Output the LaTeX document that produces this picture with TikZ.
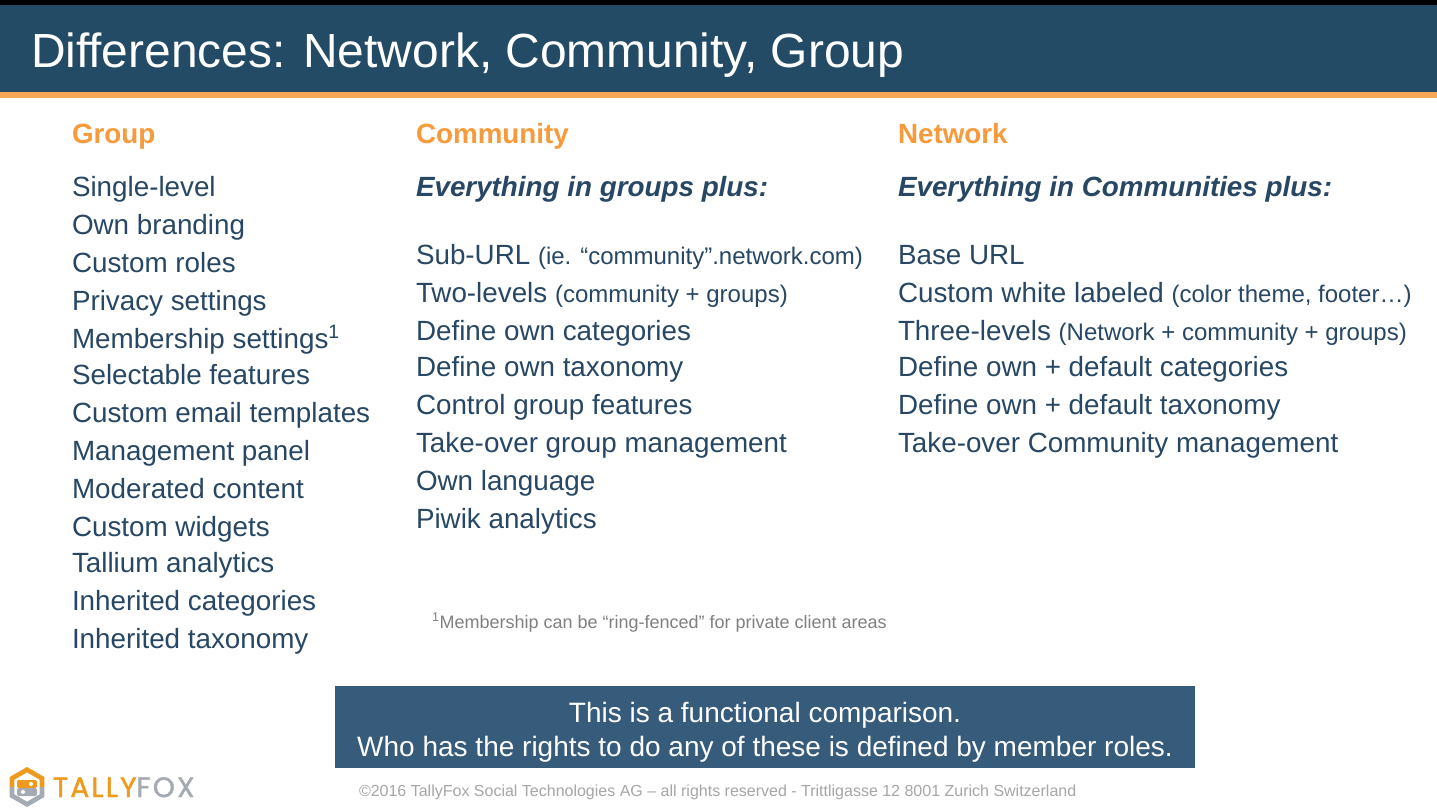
\documentclass[tikz,border=0pt]{standalone}
\usepackage{fontspec}
\setmainfont[Ligatures=NoCommon]{Liberation Sans}
\newfontfamily\logofont[LetterSpace=8,FakeBold=1.5]{Poppins}
\definecolor{hdr}{HTML}{244B65}
\definecolor{org}{HTML}{F9A556}
\definecolor{orgtxt}{HTML}{F79A3C}
\definecolor{bodytxt}{HTML}{274764}
\definecolor{boxc}{HTML}{365B7B}
\definecolor{gfoot}{HTML}{808080}
\definecolor{glight}{HTML}{A6A6A6}
\definecolor{logogray}{HTML}{A5ABB3}
\definecolor{logoorg}{HTML}{EE9A1E}
\newcommand\smallpar[1]{{\fontsize{24}{28}\selectfont #1}}
\begin{document}
\begin{tikzpicture}[x=1pt,y=-1pt,
 every node/.style={inner sep=0pt,outer sep=0pt,anchor=base west},
 item/.style={text=bodytxt,font=\fontsize{27.8}{33}\selectfont},
 head/.style={text=orgtxt,font=\fontsize{27.8}{33}\selectfont\bfseries},
 subhead/.style={text=bodytxt,font=\fontsize{27.8}{33}\selectfont\bfseries\itshape},
 boxtext/.style={text=white,font=\fontsize{28}{33}\selectfont,anchor=base},
]
\useasboundingbox (0,0) rectangle (1437,811);
\fill[white] (0,0) rectangle (1437,811);
% header
\fill[black] (0,0) rectangle (1437,5);
\fill[hdr] (0,5) rectangle (1437,92);
\fill[org] (0,92) rectangle (1437,98);
\node[text=white,font=\fontsize{47.9}{52}\selectfont] (title) at (31,67) {Differences: Network, Community, Group};

% Group column
\node[head] (gh) at (72,143) {Group};
\node[item] (g1) at (72,196) {Single-level};
\node[item] (g2) at (72,234) {Own branding};
\node[item] (g3) at (72,272) {Custom roles};
\node[item] (g4) at (72,310) {Privacy settings};
\node[item] (g5) at (72,348) {Membership settings\textsuperscript{1}};
\node[item] (g6) at (72,384) {Selectable features};
\node[item] (g7) at (72,422) {Custom email templates};
\node[item] (g8) at (72,460) {Management panel};
\node[item] (g9) at (72,498) {Moderated content};
\node[item] (g10) at (72,536) {Custom widgets};
\node[item] (g11) at (72,572) {Tallium analytics};
\node[item] (g12) at (72,610) {Inherited categories};
\node[item] (g13) at (72,648) {Inherited taxonomy};

% Community column
\node[head] (ch) at (416,143) {Community};
\node[subhead] (cs) at (416,196) {Everything in groups plus:};
\node[item] (c1) at (416,264) {Sub-URL \smallpar{(ie. “community”.network.com)}};
\node[item] (c2) at (416,302) {Two-levels \smallpar{(community + groups)}};
\node[item] (c3) at (416,340) {Define own categories};
\node[item] (c4) at (416,376) {Define own taxonomy};
\node[item] (c5) at (416,414) {Control group features};
\node[item] (c6) at (416,452) {Take-over group management};
\node[item] (c7) at (416,490) {Own language};
\node[item] (c8) at (416,528) {Piwik analytics};

% Network column
\node[head] (nh) at (898,143) {Network};
\node[subhead] (ns) at (898,196) {Everything in Communities plus:};
\node[item] (n1) at (898,264) {Base URL};
\node[item] (n2) at (898,302) {Custom white labeled \smallpar{(color theme, footer…)}};
\node[item] (n3) at (898,340) {Three-levels \smallpar{(Network + community + groups)}};
\node[item] (n4) at (898,376) {Define own + default categories};
\node[item] (n5) at (898,414) {Define own + default taxonomy};
\node[item] (n6) at (898,452) {Take-over Community management};

% footnote
\node[text=gfoot,font=\fontsize{18}{20}\selectfont] (fn) at (432,628) {\textsuperscript{1}Membership can be “ring-fenced” for private client areas};

% bottom box
\node[fill=boxc,minimum width=860pt,minimum height=82pt,anchor=north west] (box) at (335,686) {};
\node[boxtext] (b1) at (765,722) {This is a functional comparison.};
\node[boxtext] (b2) at (765,756) {Who has the rights to do any of these is defined by member roles.};

% footer
\node[text=glight,font=\fontsize{16}{19}\selectfont] (foot) at (359,796) {©2016 TallyFox Social Technologies AG – all rights reserved - Trittligasse 12 8001 Zurich Switzerland};

% logo icon
\begin{scope}
\clip (27,767) -- (44.3,777) -- (44.3,797) -- (27,807) -- (9.7,797) -- (9.7,777) -- cycle;
\fill[logoorg] (0,760) rectangle (50,787);
\fill[logogray] (0,787) rectangle (50,811);
\end{scope}
\fill[white] (27,772.5) -- (39.6,779.8) -- (39.6,794.2) -- (27,801.5) -- (14.4,794.2) -- (14.4,779.8) -- cycle;
\fill[logoorg,rounded corners=2pt] (17,780) rectangle (37,788);
\fill[logogray,rounded corners=2pt] (17,788) rectangle (37,796);
\fill[white] (31,784) circle (2);
\fill[white] (23,792) circle (2);
\node[font=\logofont\fontsize{28}{30}\selectfont] (logo) at (53,797) {\textcolor{logoorg}{TALLY}\textcolor{logogray}{FOX}};
\end{tikzpicture}
\end{document}
